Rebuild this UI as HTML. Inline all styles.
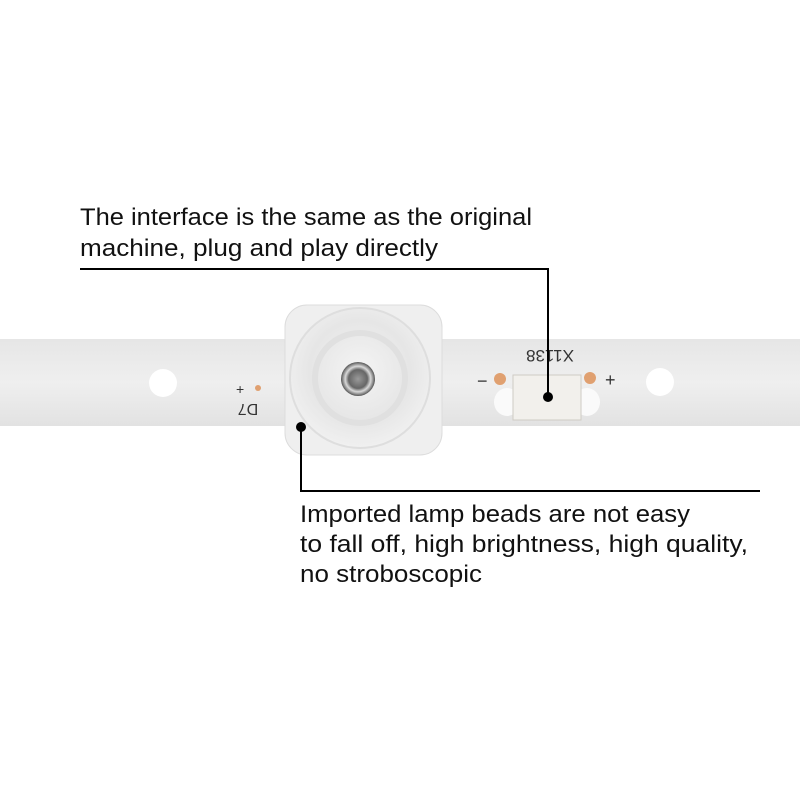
<!DOCTYPE html>
<html><head><meta charset="utf-8"><style>html,body{margin:0;padding:0;background:#fff}svg{display:block}</style></head>
<body>
<svg width="800" height="800" viewBox="0 0 800 800" xmlns="http://www.w3.org/2000/svg">
<defs>
<linearGradient id="strip" x1="0" y1="0" x2="0" y2="1">
<stop offset="0" stop-color="#e6e6e6"/><stop offset="0.5" stop-color="#efefef"/><stop offset="1" stop-color="#e2e2e2"/>
</linearGradient>
<radialGradient id="lens" cx="0.5" cy="0.45" r="0.6">
<stop offset="0" stop-color="#f4f4f4"/><stop offset="0.6" stop-color="#e6e6e6"/><stop offset="1" stop-color="#f3f3f3"/>
</radialGradient>
<radialGradient id="bead" cx="0.5" cy="0.5" r="0.5">
<stop offset="0" stop-color="#9a9a9a"/><stop offset="0.55" stop-color="#666"/><stop offset="0.75" stop-color="#d8d8d8"/><stop offset="1" stop-color="#555"/>
</radialGradient>
</defs>
<rect x="0" y="339" width="800" height="87" fill="url(#strip)"/>
<circle cx="163" cy="383" r="14" fill="#fff"/>
<circle cx="660" cy="382" r="14" fill="#fff"/>
<text x="236" y="394" font-family="Liberation Sans, sans-serif" font-size="14" fill="#333">+</text>
<circle cx="258" cy="388" r="3" fill="#e0a070"/>
<text x="248" y="416" font-family="Liberation Sans, sans-serif" font-size="16" fill="#333" transform="rotate(180 248 410)" text-anchor="middle">D7</text>
<!-- lens -->
<rect x="285" y="305" width="157" height="150" rx="22" fill="#efefef" stroke="#dcdcdc"/>
<circle cx="360" cy="378" r="70" fill="url(#lens)" stroke="#dedede" stroke-width="2"/>
<circle cx="360" cy="378" r="45" fill="none" stroke="#e0e0e0" stroke-width="6"/>
<circle cx="358" cy="379" r="17" fill="url(#bead)"/>
<!-- connector -->
<text x="550" y="362" font-family="Liberation Sans, sans-serif" font-size="17" fill="#333" text-anchor="middle" transform="rotate(180 550 356)">X1138</text>
<text x="477" y="387" font-family="Liberation Sans, sans-serif" font-size="18" fill="#333">−</text>
<circle cx="500" cy="379" r="6" fill="#e0a070"/>
<circle cx="590" cy="378" r="6" fill="#e0a070"/>
<text x="605" y="386" font-family="Liberation Sans, sans-serif" font-size="18" fill="#333">+</text>
<ellipse cx="507" cy="402" rx="13" ry="14" fill="#fafafa"/>
<ellipse cx="587" cy="402" rx="13" ry="14" fill="#fafafa"/>
<rect x="513" y="375" width="68" height="45" fill="#f2f0ec" stroke="#cfcbc4"/>
<!-- callouts -->
<circle cx="548" cy="397" r="5" fill="#000"/>
<polyline points="548,397 548,269 80,269" fill="none" stroke="#000" stroke-width="2"/>
<circle cx="301" cy="427" r="5" fill="#000"/>
<polyline points="301,427 301,491 760,491" fill="none" stroke="#000" stroke-width="2"/>
<g font-family="Liberation Sans, sans-serif" font-size="24" fill="#111">
<text x="80" y="225" textLength="452" lengthAdjust="spacingAndGlyphs">The interface is the same as the original</text>
<text x="80" y="256" textLength="358" lengthAdjust="spacingAndGlyphs">machine, plug and play directly</text>
<text x="300" y="522" textLength="390" lengthAdjust="spacingAndGlyphs">Imported lamp beads are not easy</text>
<text x="300" y="552" textLength="448" lengthAdjust="spacingAndGlyphs">to fall off, high brightness, high quality,</text>
<text x="300" y="582" textLength="182" lengthAdjust="spacingAndGlyphs">no stroboscopic</text>
</g>
</svg>
</body></html>
